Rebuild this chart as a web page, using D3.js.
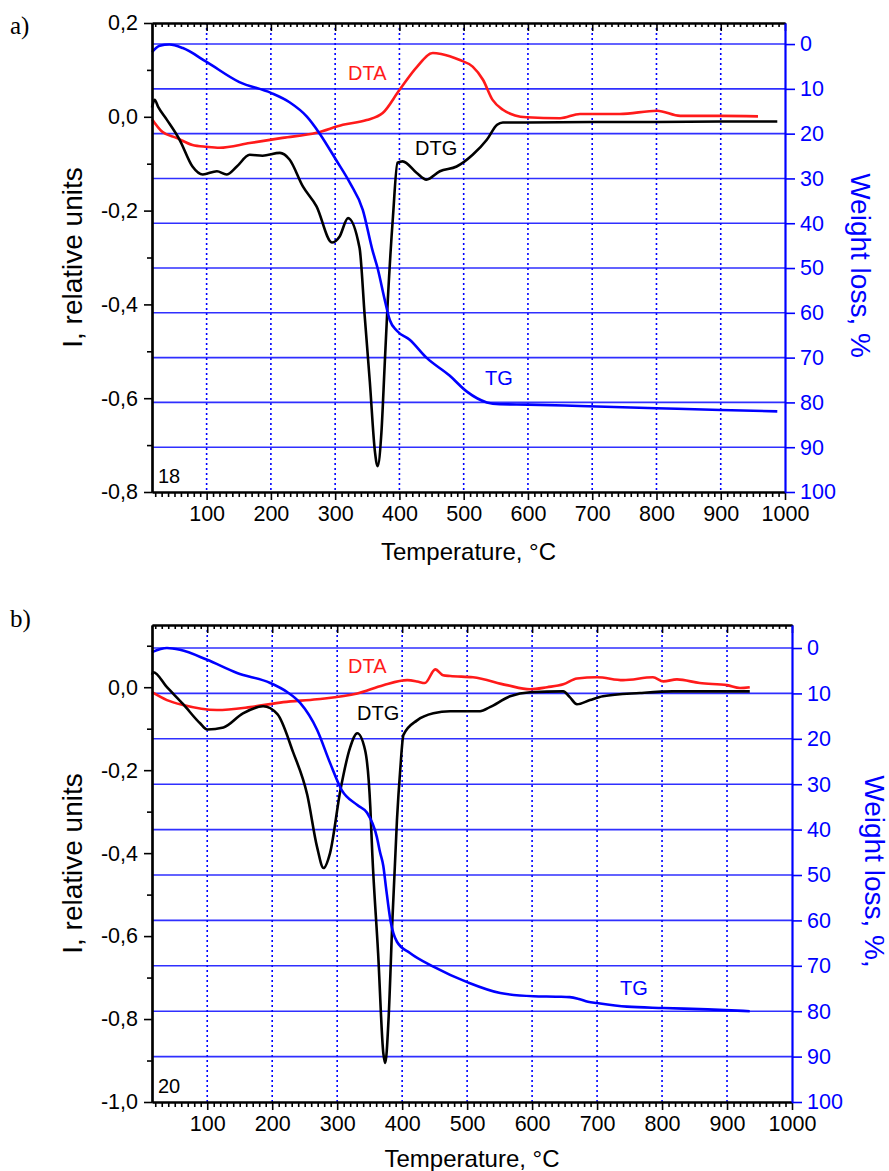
<!DOCTYPE html>
<html><head><meta charset="utf-8">
<script src="https://cdn.jsdelivr.net/npm/d3@7"></script>
<style>
body{margin:0;background:#fff;}
svg{display:block;}
text{font-family:"Liberation Sans",Arial,sans-serif;}
</style>
</head><body>
<svg id="chart" width="889" height="1171"></svg>
<script>
// ---------- shared tick labels ----------
const xTickValues = [100, 200, 300, 400, 500, 600, 700, 800, 900, 1000];
const xGridValues = [100, 200, 300, 400, 500, 600, 700, 800, 900];
const rightTickValues = [0, 10, 20, 30, 40, 50, 60, 70, 80, 90, 100];
const rightGridValues = [0, 10, 20, 30, 40, 50, 60, 70, 80, 90];
const leftTicksA = [-0.8, -0.6, -0.4, -0.2, 0.0, 0.2];
const leftMinorA = [-0.7, -0.5, -0.3, -0.1, 0.1];
const leftTicksB = [-1.0, -0.8, -0.6, -0.4, -0.2, 0.0];
const leftMinorB = [-0.9, -0.7, -0.5, -0.3, -0.1, 0.1];

// ---------- panel a (sample 18) ----------
const tgA_T  = [15, 27, 42, 63, 100, 151, 200, 229, 256, 276, 302, 323, 343, 358, 366, 377, 385, 396, 416, 442, 478, 505, 536, 556, 600, 681, 800, 900, 988];
const tgA_W  = [1.8, 0.4, 0.1, 0.9, 4.0, 8.5, 10.9, 13.0, 16.2, 20.0, 26.0, 31.0, 37.0, 46.0, 50.0, 57.0, 61.6, 64.0, 66.0, 70.0, 74.0, 77.6, 80.0, 80.4, 80.5, 80.8, 81.3, 81.7, 82.0];

const dtaA_T = [15, 31, 53, 78, 100, 120, 167, 218, 271, 312, 349, 374, 400, 427, 452, 465, 494, 514, 530, 545, 561, 580, 598, 650, 681, 743, 801, 837, 900, 958];
const dtaA_V = [-0.005, -0.032, -0.045, -0.060, -0.064, -0.066, -0.056, -0.045, -0.034, -0.017, -0.007, 0.008, 0.057, 0.106, 0.136, 0.134, 0.121, 0.107, 0.079, 0.036, 0.015, 0.003, -0.001, -0.003, 0.006, 0.006, 0.013, 0.002, 0.002, 0.001];

const dtgA_T = [15, 19, 25, 38, 58, 78, 94, 116, 131, 147, 167, 187, 214, 229, 250, 271, 295, 307, 320, 338, 346, 354, 362, 366, 372, 377, 382, 390, 397, 405, 427, 442, 463, 489, 514, 536, 552, 561, 600, 700, 800, 900, 988];
const dtgA_V = [0.020, 0.036, 0.020, -0.006, -0.049, -0.106, -0.123, -0.116, -0.123, -0.106, -0.081, -0.083, -0.077, -0.091, -0.149, -0.191, -0.268, -0.255, -0.216, -0.280, -0.425, -0.566, -0.715, -0.745, -0.673, -0.531, -0.389, -0.212, -0.098, -0.095, -0.120, -0.134, -0.116, -0.106, -0.081, -0.049, -0.017, -0.012, -0.012, -0.011, -0.011, -0.010, -0.010];

// ---------- panel b (sample 20) ----------
const tgB_T  = [15, 38, 58, 100, 146, 197, 223, 243, 269, 289, 307, 331, 346, 361, 366, 371, 375, 382, 392, 412, 448, 500, 551, 602, 640, 658, 672, 686, 700, 746, 802, 870, 935];
const tgB_W  = [0.9, 0.0, 0.4, 2.6, 5.5, 7.7, 9.7, 12.1, 18.0, 25.3, 31.3, 34.6, 36.3, 41.6, 45.0, 48.0, 52.6, 60.0, 64.7, 67.2, 70.2, 73.6, 76.0, 76.7, 76.8, 76.9, 77.3, 77.9, 78.2, 79.0, 79.3, 79.6, 80.0];

const dtaB_T = [15, 38, 63, 115, 166, 217, 269, 331, 371, 408, 423, 435, 451, 463, 474, 509, 561, 597, 623, 648, 669, 700, 740, 786, 802, 823, 858, 900, 920, 935];
const dtaB_V = [-0.012, -0.031, -0.043, -0.055, -0.048, -0.036, -0.029, -0.015, 0.005, 0.017, 0.014, 0.010, 0.043, 0.029, 0.027, 0.024, 0.005, -0.005, 0.000, 0.007, 0.021, 0.024, 0.017, 0.024, 0.014, 0.019, 0.010, 0.005, -0.002, 0.000];

const dtgB_T = [15, 17, 38, 63, 89, 100, 125, 155, 186, 208, 232, 254, 269, 279, 289, 305, 320, 331, 343, 351, 354, 363, 371, 374, 379, 385, 392, 397, 402, 423, 448, 474, 520, 535, 566, 597, 648, 658, 669, 689, 709, 766, 817, 935];
const dtgB_V = [0.030, 0.036, 0.000, -0.041, -0.087, -0.102, -0.097, -0.063, -0.046, -0.065, -0.156, -0.260, -0.385, -0.436, -0.400, -0.248, -0.145, -0.111, -0.152, -0.289, -0.400, -0.641, -0.882, -0.906, -0.802, -0.561, -0.320, -0.200, -0.115, -0.080, -0.063, -0.058, -0.058, -0.048, -0.022, -0.012, -0.010, -0.024, -0.041, -0.031, -0.022, -0.014, -0.010, -0.010];

// ---------- drawing ----------
const svg = d3.select("#chart");
const BLUE = "#0000ff", RED = "#ff1a1a", GRID = "#2f2fff";
const loc = d3.formatLocale({decimal: ",", thousands: "", grouping: [3], currency: ["", ""], minus: "-"});
const fmtL = loc.format(".1f");
const zip = (a, b) => a.map((v, i) => [v, b[i]]);

function drawPanel(p) {
  const g = svg.append("g");
  const x = d3.scaleLinear().domain([15, 1000]).range([p.left, p.right]);
  const yL = d3.scaleLinear().domain(p.yLDomain).range([p.bottom, p.top]);
  const yR = d3.scaleLinear().domain(p.yRDomain).range([p.top, p.bottom]);

  // grid
  g.append("g").selectAll("line").data(rightGridValues).join("line")
    .attr("x1", p.left).attr("x2", p.right)
    .attr("y1", d => yR(d)).attr("y2", d => yR(d))
    .attr("stroke", GRID).attr("stroke-width", 1.6);
  g.append("g").selectAll("line").data(xGridValues).join("line")
    .attr("x1", d => x(d)).attr("x2", d => x(d))
    .attr("y1", p.top).attr("y2", p.bottom)
    .attr("stroke", BLUE).attr("stroke-width", 1.6).attr("stroke-dasharray", "2,3");

  // curves
  const lineL = d3.line().x(d => x(d[0])).y(d => yL(d[1])).curve(d3.curveMonotoneX);
  const lineR = d3.line().x(d => x(d[0])).y(d => yR(d[1])).curve(d3.curveMonotoneX);
  g.append("path").attr("d", lineL(zip(p.dtaT, p.dtaV))).attr("fill", "none").attr("stroke", RED).attr("stroke-width", 2.6);
  g.append("path").attr("d", lineL(zip(p.dtgT, p.dtgV))).attr("fill", "none").attr("stroke", "#000").attr("stroke-width", 2.6);
  g.append("path").attr("d", lineR(zip(p.tgT, p.tgW))).attr("fill", "none").attr("stroke", BLUE).attr("stroke-width", 2.6);

  const minorX = d3.range(20, 1000, 10).filter(v => v % 100 !== 0);
  const styleAxis = (sel, col) => {
    sel.selectAll("path").attr("stroke", col).attr("stroke-width", 2.2);
    sel.selectAll("line").attr("stroke", col).attr("stroke-width", 1.6);
    sel.selectAll("text").attr("fill", col).attr("font-size", 21.5)
      .style("font-family", '"Liberation Sans", Arial, sans-serif');
  };

  // bottom axis
  const bx = g.append("g").attr("transform", `translate(0,${p.bottom})`)
    .call(d3.axisBottom(x).tickValues(xTickValues).tickSize(8).tickSizeOuter(0).tickPadding(6).tickFormat(d3.format("d")));
  styleAxis(bx, "#000");
  const bxm = g.append("g").attr("transform", `translate(0,${p.bottom})`)
    .call(d3.axisBottom(x).tickValues(minorX).tickSize(5).tickSizeOuter(0).tickFormat(""));
  styleAxis(bxm, "#000");
  // top axis (ticks inward)
  const tx = g.append("g").attr("transform", `translate(0,${p.top})`)
    .call(d3.axisBottom(x).tickValues(xTickValues).tickSize(8).tickSizeOuter(0).tickFormat(""));
  styleAxis(tx, "#000");
  const txm = g.append("g").attr("transform", `translate(0,${p.top})`)
    .call(d3.axisBottom(x).tickValues(minorX).tickSize(4).tickSizeOuter(0).tickFormat(""));
  styleAxis(txm, "#000");
  // left axis
  const lx = g.append("g").attr("transform", `translate(${p.left},0)`)
    .call(d3.axisLeft(yL).tickValues(p.leftTicks).tickSize(8).tickSizeOuter(0).tickPadding(6).tickFormat(fmtL));
  styleAxis(lx, "#000");
  const lxm = g.append("g").attr("transform", `translate(${p.left},0)`)
    .call(d3.axisLeft(yL).tickValues(p.leftMinor).tickSize(5).tickSizeOuter(0).tickFormat(""));
  styleAxis(lxm, "#000");
  // right axis
  const rx = g.append("g").attr("transform", `translate(${p.right},0)`)
    .call(d3.axisRight(yR).tickValues(rightTickValues).tickSize(10).tickSizeOuter(0).tickPadding(5).tickFormat(d3.format("d")));
  styleAxis(rx, BLUE);

  // axis titles
  g.append("text").attr("x", (p.left + p.right) / 2).attr("y", p.xTitleY)
    .attr("text-anchor", "middle").attr("font-size", 24).text("Temperature, °C");
  g.append("text").attr("transform", `translate(82,${(p.top + p.bottom) / 2}) rotate(-90)`)
    .attr("text-anchor", "middle").attr("font-size", 28).text("I, relative units");
  g.append("text").attr("transform", `translate(${p.rTitleX},${(p.top + p.bottom) / 2 + 8}) rotate(90)`)
    .attr("text-anchor", "middle").attr("font-size", 28).attr("fill", BLUE).text(p.rTitle);

  // panel letter & sample number
  g.append("text").attr("x", 10).attr("y", p.letterY).attr("font-size", 25)
    .style("font-family", '"Liberation Serif", "Times New Roman", serif').text(p.letter);
  g.append("text").attr("x", p.left + 6).attr("y", p.bottom - 9).attr("font-size", 20).text(p.sample);

  // curve labels
  g.append("text").attr("x", p.dtaLab[0]).attr("y", p.dtaLab[1]).attr("font-size", 20).attr("fill", RED).text("DTA");
  g.append("text").attr("x", p.dtgLab[0]).attr("y", p.dtgLab[1]).attr("font-size", 20).attr("fill", "#000").text("DTG");
  g.append("text").attr("x", p.tgLab[0]).attr("y", p.tgLab[1]).attr("font-size", 20).attr("fill", BLUE).text("TG");
}

drawPanel({
  left: 152, right: 785, top: 23, bottom: 492,
  yLDomain: [-0.8, 0.2], yRDomain: [-4.7, 100],
  leftTicks: leftTicksA, leftMinor: leftMinorA,
  tgT: tgA_T, tgW: tgA_W, dtaT: dtaA_T, dtaV: dtaA_V, dtgT: dtgA_T, dtgV: dtgA_V,
  xTitleY: 560, rTitleX: 851, rTitle: "Weight loss, %",
  letter: "a)", letterY: 34, sample: "18",
  dtaLab: [348, 80], dtgLab: [415, 155], tgLab: [485, 385]
});
drawPanel({
  left: 152, right: 792, top: 625, bottom: 1102,
  yLDomain: [-1.0, 0.15], yRDomain: [-5.07, 100],
  leftTicks: leftTicksB, leftMinor: leftMinorB,
  tgT: tgB_T, tgW: tgB_W, dtaT: dtaB_T, dtaV: dtaB_V, dtgT: dtgB_T, dtgV: dtgB_V,
  xTitleY: 1167, rTitleX: 865, rTitle: "Weight loss, %,",
  letter: "b)", letterY: 627, sample: "20",
  dtaLab: [348, 673], dtgLab: [357, 720], tgLab: [620, 995]
});
</script>
</body></html>
